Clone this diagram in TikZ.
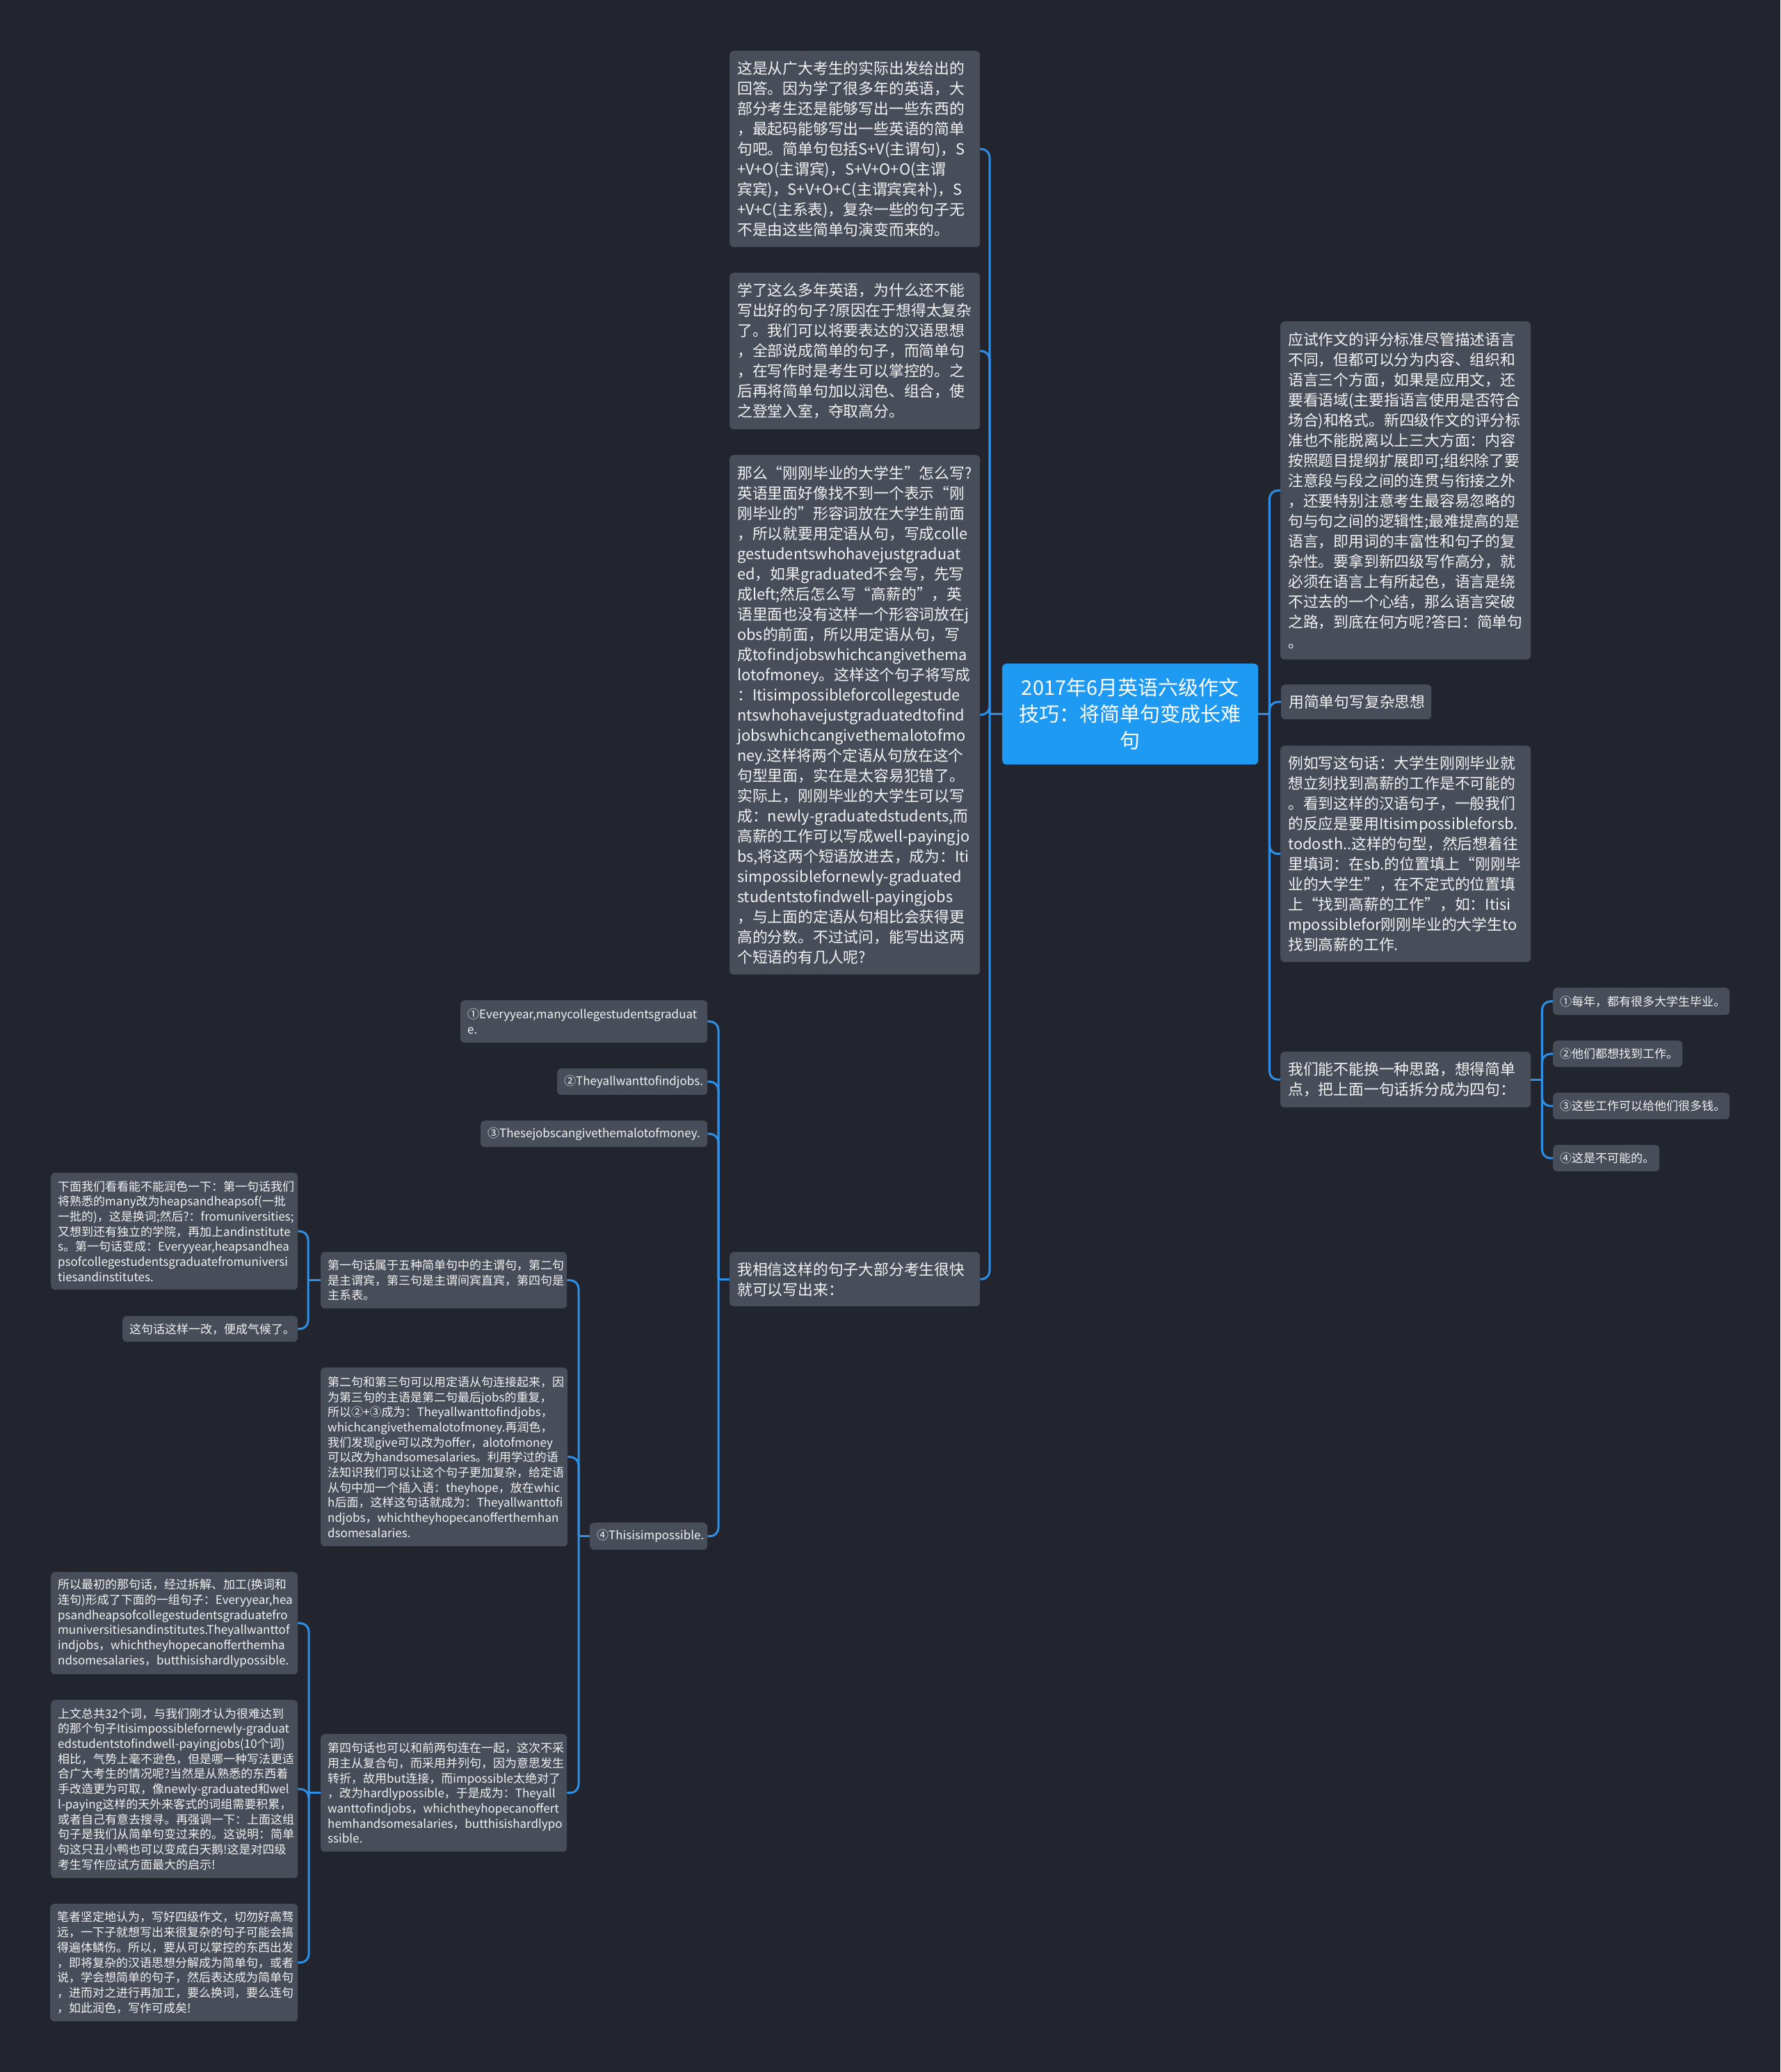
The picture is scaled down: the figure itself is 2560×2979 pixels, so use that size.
\documentclass[tikz,border=0pt]{standalone}
\usepackage{fontspec}
\setmainfont{Noto Sans CJK SC}
\usetikzlibrary{calc}
\hyphenpenalty=10000
\exhyphenpenalty=10000
\definecolor{bgc}{HTML}{22252E}
\definecolor{boxc}{HTML}{484D5A}
\definecolor{txt}{HTML}{F2F2F2}
\definecolor{lnk}{HTML}{2E8FE6}
\definecolor{cen}{HTML}{1E9AF2}
\tikzset{
  tbox/.style={fill=boxc, rounded corners=6pt, text=txt, inner xsep=11pt, inner ysep=0pt,
    align=left, anchor=north west, font=\fontsize{21.8}{29}\selectfont},
  sbox/.style={tbox, inner xsep=10pt, font=\fontsize{17}{21.7}\selectfont},
  link/.style={draw=lnk, line width=3pt, rounded corners=12pt},
}
\begin{document}
\begin{tikzpicture}[x=1pt,y=-1pt]
\fill[bgc] (0,0) rectangle (2560,2979);
\useasboundingbox (0,0) rectangle (2560,2979);

% central
\node[fill=cen, rounded corners=6pt, text=white, align=center, minimum width=368pt,
  minimum height=145pt, inner sep=0pt, anchor=north west,
  font=\fontsize{29}{38}\selectfont] (c) at (1441,954)
  {2017年6月英语六级作文\\技巧：将简单句变成长难\\句};

% left big boxes
\node[tbox, text width=338pt, minimum height=282pt] (a1) at (1049,73) {这是从广大考生的实际出发给出的\\
回答。因为学了很多年的英语，大\\
部分考生还是能够写出一些东西的\\
，最起码能够写出一些英语的简单\\
句吧。简单句包括S+V(主谓句)，S\\
+V+O(主谓宾)，S+V+O+O(主谓\\
宾宾)，S+V+O+C(主谓宾宾补)，S\\
+V+C(主系表)，复杂一些的句子无\\
不是由这些简单句演变而来的。};

\node[tbox, text width=338pt, minimum height=225pt] (a2) at (1049,392) {学了这么多年英语，为什么还不能\\
写出好的句子?原因在于想得太复杂\\
了。我们可以将要表达的汉语思想\\
，全部说成简单的句子，而简单句\\
，在写作时是考生可以掌控的。之\\
后再将简单句加以润色、组合，使\\
之登堂入室，夺取高分。};

\node[tbox, text width=338pt, minimum height=747pt] (a3) at (1049,654) {那么“刚刚毕业的大学生”怎么写?\\
英语里面好像找不到一个表示“刚\\
刚毕业的”形容词放在大学生前面\\
，所以就要用定语从句，写成colle\\
gestudentswhohavejustgraduat\\
ed，如果graduated不会写，先写\\
成left;然后怎么写“高薪的”，英\\
语里面也没有这样一个形容词放在j\\
obs的前面，所以用定语从句，写\\
成tofindjobswhichcangivethema\\
lotofmoney。这样这个句子将写成\\
：Itisimpossibleforcollegestude\\
ntswhohavejustgraduatedtofind\\
jobswhichcangivethemalotofmo\\
ney.这样将两个定语从句放在这个\\
句型里面，实在是太容易犯错了。\\
实际上，刚刚毕业的大学生可以写\\
成：newly-graduatedstudents,而\\
高薪的工作可以写成well-payingjo\\
bs,将这两个短语放进去，成为：Iti\\
simpossiblefornewly-graduated\\
studentstofindwell-payingjobs\\
，与上面的定语从句相比会获得更\\
高的分数。不过试问，能写出这两\\
个短语的有几人呢?};

\node[tbox, text width=338pt, minimum height=78pt] (a4) at (1049,1800) {我相信这样的句子大部分考生很快\\
就可以写出来：};

% right boxes
\node[tbox, text width=338pt, minimum height=486pt] (b1) at (1841,462) {应试作文的评分标准尽管描述语言\\
不同，但都可以分为内容、组织和\\
语言三个方面，如果是应用文，还\\
要看语域(主要指语言使用是否符合\\
场合)和格式。新四级作文的评分标\\
准也不能脱离以上三大方面：内容\\
按照题目提纲扩展即可;组织除了要\\
注意段与段之间的连贯与衔接之外\\
，还要特别注意考生最容易忽略的\\
句与句之间的逻辑性;最难提高的是\\
语言，即用词的丰富性和句子的复\\
杂性。要拿到新四级写作高分，就\\
必须在语言上有所起色，语言是绕\\
不过去的一个心结，那么语言突破\\
之路，到底在何方呢?答曰：简单句\\
。};

\node[tbox, text width=194pt, minimum height=50pt] (b2) at (1842,984) {用简单句写复杂思想};

\node[tbox, text width=338pt, minimum height=311pt] (b3) at (1841,1072) {例如写这句话：大学生刚刚毕业就\\
想立刻找到高薪的工作是不可能的\\
。看到这样的汉语句子，一般我们\\
的反应是要用Itisimpossibleforsb.\\
todosth..这样的句型，然后想着往\\
里填词：在sb.的位置填上“刚刚毕\\
业的大学生”，在不定式的位置填\\
上“找到高薪的工作”，如：Itisi\\
mpossiblefor刚刚毕业的大学生to\\
找到高薪的工作.};

\node[tbox, text width=338pt, minimum height=80pt] (b4) at (1841,1512) {我们能不能换一种思路，想得简单\\
点，把上面一句话拆分成为四句：};

\node[sbox, text width=234pt, minimum height=39pt] (c1) at (2233,1420) {①每年，都有很多大学生毕业。};
\node[sbox, text width=166pt, minimum height=38pt] (c2) at (2233,1496) {②他们都想找到工作。};
\node[sbox, text width=234pt, minimum height=38pt] (c3) at (2233,1571) {③这些工作可以给他们很多钱。};
\node[sbox, text width=133pt, minimum height=38pt] (c4) at (2233,1646) {④这是不可能的。};

% left middle
\node[sbox, text width=335pt, minimum height=61pt] (d1) at (662,1438) {①Everyyear,manycollegestudentsgraduat\\e.};
\node[sbox, text width=196pt, minimum height=38pt] (d2) at (801,1536) {②Theyallwanttofindjobs.};
\node[sbox, text width=306pt, minimum height=38pt] (d3) at (691,1611) {③Thesejobscangivethemalotofmoney.};
\node[sbox, text width=149pt, minimum height=39pt] (d4) at (848,2189) {④Thisisimpossible.};

\node[sbox, text width=334pt, minimum height=81pt] (e1) at (461,1800) {第一句话属于五种简单句中的主谓句，第二句\\
是主谓宾，第三句是主谓间宾直宾，第四句是\\
主系表。};

\node[sbox, text width=335pt, minimum height=257pt] (e2) at (461,1966) {第二句和第三句可以用定语从句连接起来，因\\
为第三句的主语是第二句最后jobs的重复，\\
所以②+③成为：Theyallwanttofindjobs，\\
whichcangivethemalotofmoney.再润色，\\
我们发现give可以改为offer，alotofmoney\\
可以改为handsomesalaries。利用学过的语\\
法知识我们可以让这个句子更加复杂，给定语\\
从句中加一个插入语：theyhope，放在whic\\
h后面，这样这句话就成为：Theyallwanttofi\\
ndjobs，whichtheyhopecanofferthemhan\\
dsomesalaries.};

\node[sbox, text width=334pt, minimum height=169pt] (e3) at (461,2493) {第四句话也可以和前两句连在一起，这次不采\\
用主从复合句，而采用并列句，因为意思发生\\
转折，故用but连接，而impossible太绝对了\\
，改为hardlypossible，于是成为：Theyall\\
wanttofindjobs，whichtheyhopecanoffert\\
hemhandsomesalaries，butthisishardlypo\\
ssible.};

% leaves
\node[sbox, text width=335pt, minimum height=168pt] (f1) at (73,1686) {下面我们看看能不能润色一下：第一句话我们\\
将熟悉的many改为heapsandheapsof(一批\\
一批的)，这是换词;然后?：fromuniversities;\\
又想到还有独立的学院，再加上andinstitute\\
s。第一句话变成：Everyyear,heapsandhea\\
psofcollegestudentsgraduatefromuniversi\\
tiesandinstitutes.};

\node[sbox, text width=232pt, minimum height=37pt] (f2) at (176,1892) {这句话这样一改，便成气候了。};

\node[sbox, text width=335pt, minimum height=147pt] (f3) at (73,2260) {所以最初的那句话，经过拆解、加工(换词和\\
连句)形成了下面的一组句子：Everyyear,hea\\
psandheapsofcollegestudentsgraduatefro\\
muniversitiesandinstitutes.Theyallwanttof\\
indjobs，whichtheyhopecanofferthemha\\
ndsomesalaries，butthisishardlypossible.};

\node[sbox, text width=335pt, minimum height=256pt] (f4) at (73,2444) {上文总共32个词，与我们刚才认为很难达到\\
的那个句子Itisimpossiblefornewly-graduat\\
edstudentstofindwell-payingjobs(10个词)\\
相比，气势上毫不逊色，但是哪一种写法更适\\
合广大考生的情况呢?当然是从熟悉的东西着\\
手改造更为可取，像newly-graduated和wel\\
l-paying这样的天外来客式的词组需要积累，\\
或者自己有意去搜寻。再强调一下：上面这组\\
句子是我们从简单句变过来的。这说明：简单\\
句这只丑小鸭也可以变成白天鹅!这是对四级\\
考生写作应试方面最大的启示!};

\node[sbox, text width=336pt, minimum height=169pt] (f5) at (72,2737) {笔者坚定地认为，写好四级作文，切勿好高骛\\
远，一下子就想写出来很复杂的句子可能会搞\\
得遍体鳞伤。所以，要从可以掌控的东西出发\\
，即将复杂的汉语思想分解成为简单句，或者\\
说，学会想简单的句子，然后表达成为简单句\\
，进而对之进行再加工，要么换词，要么连句\\
，如此润色，写作可成矣!};

% connectors
\coordinate (jL) at ($(c.west)+(-18,0)$);
\draw[link] (c.west) -- (jL);
\foreach \n in {a1,a2,a3,a4} \draw[link] (jL) |- (\n.east);

\coordinate (jR) at ($(c.east)+(16,0)$);
\draw[link] (c.east) -- (jR);
\foreach \n in {b1,b2,b3,b4} \draw[link] (jR) |- (\n.west);

\coordinate (jB) at ($(b4.east)+(16,0)$);
\draw[link] (b4.east) -- (jB);
\foreach \n in {c1,c2,c3,c4} \draw[link] (jB) |- (\n.west);

\coordinate (jA) at ($(a4.west)+(-16,0)$);
\draw[link] (a4.west) -- (jA);
\foreach \n in {d1,d2,d3,d4} \draw[link] (jA) |- (\n.east);

\coordinate (jD) at ($(d4.west)+(-16,0)$);
\draw[link] (d4.west) -- (jD);
\foreach \n in {e1,e2,e3} \draw[link] (jD) |- (\n.east);

\coordinate (jE) at ($(e1.west)+(-18,0)$);
\draw[link] (e1.west) -- (jE);
\foreach \n in {f1,f2} \draw[link] (jE) |- (\n.east);

\coordinate (jF) at ($(e3.west)+(-17,0)$);
\draw[link] (e3.west) -- (jF);
\foreach \n in {f3,f4,f5} \draw[link] (jF) |- (\n.east);
\end{tikzpicture}
\end{document}
